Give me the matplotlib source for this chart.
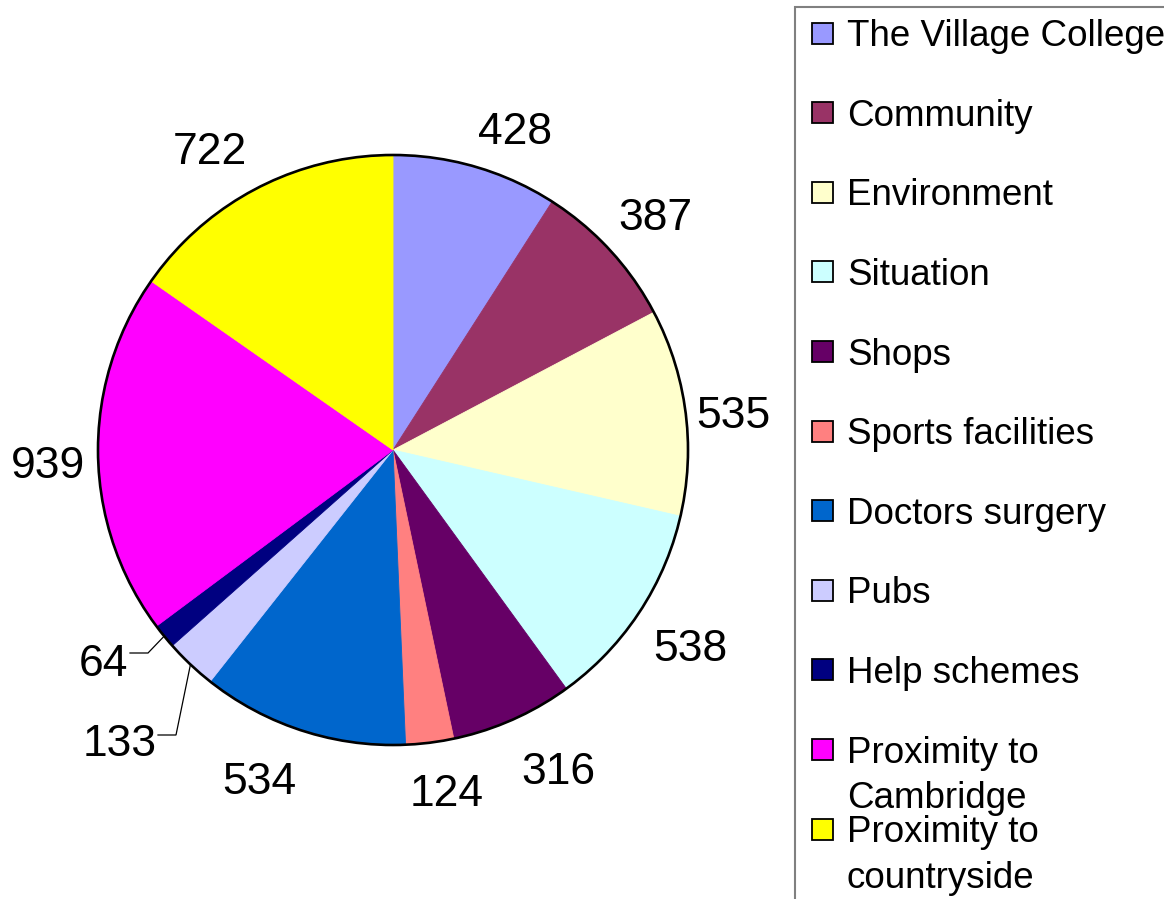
import matplotlib
matplotlib.use('Agg')
import matplotlib.pyplot as plt
from matplotlib.patches import Rectangle, Circle
import numpy as np

categories = ["The Village College", "Community", "Environment", "Situation", "Shops",
              "Sports facilities", "Doctors surgery", "Pubs", "Help schemes",
              "Proximity to\nCambridge", "Proximity to\ncountryside"]
values = [428, 387, 535, 538, 316, 124, 534, 133, 64, 939, 722]
colors = ["#9999FF", "#993366", "#FFFFCC", "#CCFFFF", "#660066", "#FF8080",
          "#0066CC", "#CCCCFF", "#000080", "#FF00FF", "#FFFF00"]

FONT = ['Liberation Sans', 'DejaVu Sans']
W, H = 1164, 899
fig = plt.figure(figsize=(W / 100, H / 100), dpi=100)
ax = fig.add_axes([0, 0, 1, 1])

cx, cy, R = 393, H - 450, 295
wedges, _ = ax.pie(values, colors=colors, startangle=90, counterclock=False,
                   center=(cx, cy), radius=R, wedgeprops=dict(linewidth=0.6))
for w in wedges:
    w.set_edgecolor(w.get_facecolor())
ax.add_patch(Circle((cx, cy), R, fill=False, ec='black', lw=1.9, zorder=5))
ax.set_xlim(0, W)
ax.set_ylim(0, H)
ax.set_aspect('equal')
ax.axis('off')

# value labels
lab_fs = 32
cap_half = 0.716 * lab_fs * 100 / 72 / 2
nudges = {0: (25, 9), 1: (8, -2), 2: (-2, 7), 3: (9, 5), 4: (25, 3), 5: (11, -2),
          6: (-27, 0), 9: (0, 7), 10: (-24, 4)}
leaders = {7: ((176, 735), (158, 735), (120, 740)),
           8: ((148, 653), (130, 653), (103, 660))}
for i, w in enumerate(wedges):
    mid = np.deg2rad((w.theta1 + w.theta2) / 2)
    if i in leaders:
        (ex, ey), (hx, hy), (lx, ly) = leaders[i]
        px, py = cx + R * np.cos(mid), cy + R * np.sin(mid)
        ax.plot([px, ex, hx], [py, H - ey, H - hy], color='black', lw=0.9,
                solid_joinstyle='miter', zorder=6)
        tx, ty = lx, H - ly
    else:
        d = R * 1.17
        dx, dy = nudges.get(i, (0, 0))
        tx = cx + d * np.cos(mid) + dx
        ty = cy + d * np.sin(mid) - dy
    ax.text(tx, ty - cap_half, str(values[i]), ha='center', va='baseline',
            fontsize=lab_fs, family=FONT, color='black')

# legend
ax.add_patch(Rectangle((795, -20), 600, H - 7 + 20, fill=False, ec='#808080',
                       lw=1.5, clip_on=False, zorder=3))
leg_fs = 26.5
leg_cap_half = 0.716 * leg_fs * 100 / 72 / 2
for i, (cat, col) in enumerate(zip(categories, colors)):
    yc = 33 + i * 79.6
    ax.add_patch(Rectangle((812, H - yc - 10.5), 21, 21, fc=col, ec='black', lw=1.3,
                           clip_on=False, zorder=4))
    for j, line in enumerate(cat.split('\n')):
        ax.text(847, H - (yc + j * 45.5) - leg_cap_half, line, ha='left', va='baseline',
                fontsize=leg_fs, family=FONT, color='black', clip_on=False)

fig.savefig('out.png', dpi=100)
